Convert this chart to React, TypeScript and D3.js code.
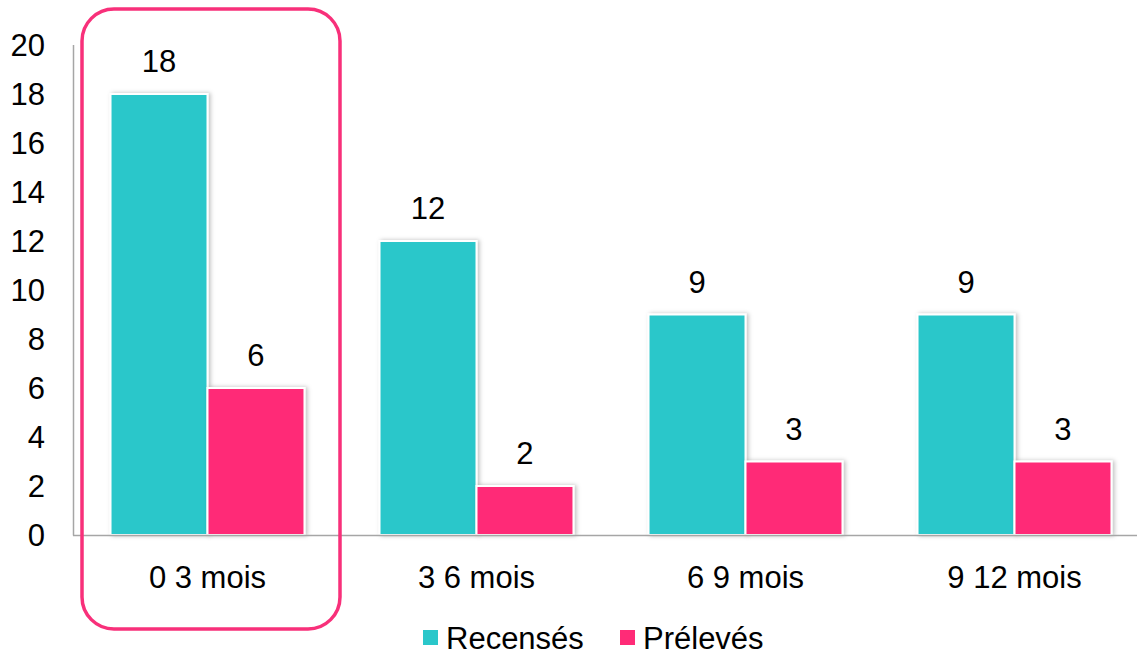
import React from "react";
import * as d3 from "d3";

const categories = ["0 3 mois", "3 6 mois", "6 9 mois", "9 12 mois"];
const seriesNames = ["Recensés", "Prélevés"];
const recenses = [18, 12, 9, 9];
const preleves = [6, 2, 3, 3];
const yTicks = [0, 2, 4, 6, 8, 10, 12, 14, 16, 18, 20];
const colors = ["#2AC7CA", "#FF2B77"];

const W = 1137;
const H = 656;
const FONT = "'Liberation Sans', Arial, sans-serif";
const FS = 31;

export default function App() {
  const left = 73;
  const step = 269;
  const x0 = d3
    .scaleBand<string>()
    .domain(categories)
    .range([left, left + step * categories.length])
    .paddingInner(0.279)
    .paddingOuter(0.1395);
  const x1 = d3
    .scaleBand<string>()
    .domain(seriesNames)
    .range([0, x0.bandwidth()])
    .padding(0);
  const y = d3.scaleLinear().domain([0, 20]).range([535, 45]);
  const values = [recenses, preleves];

  return (
    <svg
      width={W}
      height={H}
      style={{ position: "absolute", left: 0, top: 0, background: "#fff" }}
      fontFamily={FONT}
    >
      <defs>
        <filter id="sh" x="-20%" y="-20%" width="140%" height="140%">
          <feDropShadow dx="2" dy="0" stdDeviation="2" floodColor="#000" floodOpacity="0.25" />
        </filter>
      </defs>
      <rect width={W} height={H} fill="#fff" />
      {yTicks.map((t) => (
        <text
          key={t}
          x={45}
          y={y(t)}
          dy="0.36em"
          textAnchor="end"
          fontSize={FS}
          fill="#000"
        >
          {t}
        </text>
      ))}
      {categories.map((c, i) => (
        <g key={c}>
          {seriesNames.map((s, k) => {
            const v = values[k][i];
            const bx = (x0(c) ?? 0) + (x1(s) ?? 0);
            return (
              <g key={s}>
                <rect
                  x={bx}
                  y={y(v)}
                  width={x1.bandwidth()}
                  height={y(0) - y(v)}
                  fill={colors[k]}
                  stroke="#fff"
                  strokeWidth={2}
                  filter="url(#sh)"
                />
                <text
                  x={bx + x1.bandwidth() / 2}
                  y={y(v) - 22}
                  textAnchor="middle"
                  fontSize={FS}
                  fill="#000"
                >
                  {v}
                </text>
              </g>
            );
          })}
          <text
            x={(x0(c) ?? 0) + x0.bandwidth() / 2}
            y={588}
            textAnchor="middle"
            fontSize={FS}
            fill="#000"
          >
            {c}
          </text>
        </g>
      ))}
      <line x1={73.5} x2={73.5} y1={45} y2={535.5} stroke="#A6A6A6" strokeWidth={1.5} />
      <line x1={73} x2={W} y1={535.5} y2={535.5} stroke="#A6A6A6" strokeWidth={1.5} />
      <rect
        x={82}
        y={9}
        width={258}
        height={620}
        rx={32}
        ry={32}
        fill="none"
        stroke="#F8307A"
        strokeWidth={3.5}
      />
      {seriesNames.map((s, k) => {
        const lx = k === 0 ? 423 : 620;
        return (
          <g key={s}>
            <rect x={lx} y={630} width={15} height={15} fill={colors[k]} />
            <text x={lx + 23} y={649} fontSize={FS} fill="#000">
              {s}
            </text>
          </g>
        );
      })}
    </svg>
  );
}
